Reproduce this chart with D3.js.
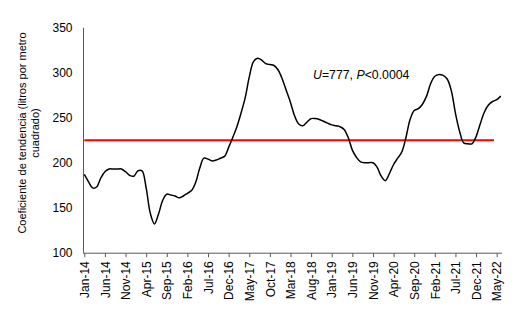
<!DOCTYPE html>
<html>
<head>
<meta charset="utf-8">
<script src="https://cdn.jsdelivr.net/npm/d3@7"></script>
<style>
  body { margin: 0; background: #fff; }
  svg text { font-family: "Liberation Sans", Arial, sans-serif; fill: #000; }
</style>
</head>
<body>
<svg id="chart"></svg>
<script>
// monthly trend coefficient, Jan-14 .. Jun-22
const startMonth = new Date(2014, 0, 1);
const values = [
  187, 179, 172, 173, 183, 190, 193, 193, 193, 193, 190, 186,   // 2014
  185, 191, 191, 172, 144, 132, 143, 158, 165, 164, 163, 161,   // 2015
  163, 166, 169, 178, 194, 205, 204, 202, 203, 205, 207, 217,   // 2016
  228, 240, 255, 272, 295, 312, 316, 314, 310, 309, 308, 303,   // 2017
  293, 280, 267, 252, 243, 241, 245, 249, 249, 248, 246, 244,   // 2018
  242, 241, 240, 237, 228, 214, 206, 201, 200, 200, 200, 195,   // 2019
  185, 180, 188, 198, 205, 212, 228, 248, 258, 260, 265, 274,   // 2020
  288, 296, 298, 297, 293, 280, 255, 235, 222, 221, 221, 229,   // 2021
  243, 256, 264, 268, 270, 274                                  // 2022
];
const threshold = 225;
const yTicks = [100, 150, 200, 250, 300, 350];
const tickEvery = 5;  // months between x labels
const yTitle = ["Coeficiente de tendencia (litros por metro", "cuadrado)"];

const width = 525, height = 314;
const svg = d3.select("#chart").attr("width", width).attr("height", height);

const months = values.map((v, i) => d3.timeMonth.offset(startMonth, i));
const fmt = d3.timeFormat("%b-%y");

const x = d3.scaleLinear().domain([0, values.length - 1]).range([84.3, 500.8]);
const y = d3.scaleLinear().domain([100, 350]).range([252.7, 27.7]);

// y axis: line + labels, no ticks
const yAxis = d3.axisLeft(y).tickValues(yTicks).tickSize(0).tickPadding(11);
svg.append("g").attr("transform", "translate(83.5,0)").call(yAxis)
  .call(g => g.select(".domain").attr("stroke", "#595959").attr("d", `M0,${y(350)}V${y(100)}`))
  .call(g => g.selectAll("text").attr("font-size", 12).attr("font-family", null));

// x axis
const tickIdx = d3.range(0, values.length, tickEvery);
const xAxis = d3.axisBottom(x).tickValues(tickIdx).tickSize(4).tickSizeOuter(0)
  .tickFormat(i => fmt(months[i]));
svg.append("g").attr("transform", `translate(0,${y(100) + 0.5})`).call(xAxis)
  .call(g => g.select(".domain").attr("stroke", "#595959").attr("d", "M83,0H502"))
  .call(g => g.selectAll(".tick line").attr("stroke", "#595959"))
  .call(g => g.selectAll("text")
    .attr("font-size", 12).attr("font-family", null)
    .attr("text-anchor", "end")
    .attr("transform", "rotate(-90)")
    .attr("x", -8).attr("y", 0).attr("dy", "0.35em"));

// threshold line
svg.append("line")
  .attr("x1", x(0)).attr("x2", 494)
  .attr("y1", y(threshold)).attr("y2", y(threshold))
  .attr("stroke", "#ff0000").attr("stroke-width", 2);

// series
const line = d3.line().x((d, i) => x(i)).y(d => y(d)).curve(d3.curveCatmullRom.alpha(0.5));
svg.append("path").datum(values)
  .attr("d", line).attr("fill", "none")
  .attr("stroke", "#000").attr("stroke-width", 1.5);

// annotation
const ann = svg.append("text").attr("x", 313).attr("y", 79).attr("font-size", 12.3);
ann.append("tspan").attr("font-style", "italic").text("U");
ann.append("tspan").text("=777, ");
ann.append("tspan").attr("font-style", "italic").text("P");
ann.append("tspan").text("<0.0004");

// y title
const yt = svg.append("text").attr("font-size", 11).attr("text-anchor", "middle")
  .attr("transform", "translate(26,133) rotate(-90)");
yTitle.forEach((t, i) => yt.append("tspan").attr("x", 0).attr("dy", i ? 13 : 0).text(t));
</script>
</body>
</html>
